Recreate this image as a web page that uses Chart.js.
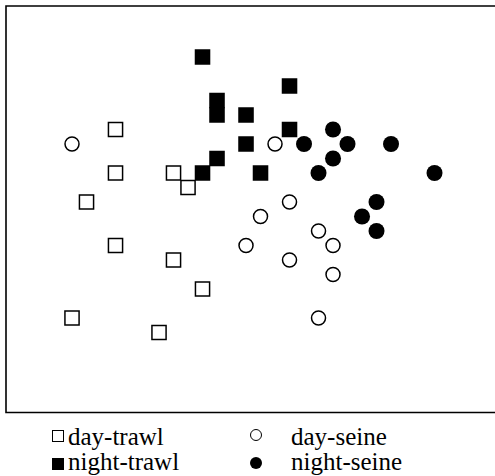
<!DOCTYPE html>
<html>
<head>
<meta charset="utf-8">
<script src="https://cdn.jsdelivr.net/npm/chart.js@4"></script>
<style>
  html, body { margin: 0; padding: 0; background: #fff; }
  #wrap { position: relative; width: 495px; height: 476px; overflow: hidden; }
  #c { position: absolute; left: 0; top: 0; }
  .lg { position: absolute; font-family: "Liberation Serif", "Times New Roman", serif; font-size: 25px; line-height: 25px; color: #000; white-space: nowrap; }
  .sym { position: absolute; box-sizing: border-box; }
</style>
</head>
<body>
<div id="wrap">
  <canvas id="c" width="495" height="420"></canvas>
  <div class="sym" style="left:52px;top:430px;width:12px;height:12px;border:1.2px solid #000;background:#fff"></div>
  <div class="lg" style="left:68px;top:424px">day-trawl</div>
  <div class="sym" style="left:52px;top:458px;width:12px;height:12px;background:#000"></div>
  <div class="lg" style="left:68px;top:449px">night-trawl</div>
  <div class="sym" style="left:250px;top:429px;width:12px;height:12px;border:1.2px solid #000;border-radius:50%;background:#fff"></div>
  <div class="lg" style="left:291px;top:424px">day-seine</div>
  <div class="sym" style="left:250px;top:457px;width:12px;height:12px;border-radius:50%;background:#000"></div>
  <div class="lg" style="left:291px;top:449px">night-seine</div>
</div>
<script>
// Series values (x, y)
const dayTrawlX   = [3, 3, 7, 8, 1, 3, 7, 9, 0, 6];
const dayTrawlY   = [15, 12, 12, 11, 10, 7, 6, 4, 2, 1];
const nightTrawlX = [9, 15, 10, 10, 12, 15, 12, 10, 9, 13];
const nightTrawlY = [20, 18, 17, 16, 16, 15, 14, 13, 12, 12];
const daySeineX   = [0, 14, 15, 13, 17, 18, 12, 15, 18, 17];
const daySeineY   = [14, 14, 10, 9, 8, 7, 7, 6, 5, 2];
const nightSeineX = [18, 16, 19, 22, 18, 17, 25, 21, 20, 21];
const nightSeineY = [15, 14, 14, 14, 13, 12, 12, 10, 9, 8];
const seriesNames = ["day-trawl", "night-trawl", "day-seine", "night-seine"];

function pts(xs, ys) { return xs.map((x, i) => ({ x: x, y: ys[i] })); }

const boxPlugin = {
  id: 'box',
  beforeDatasetsDraw(chart) {
    const a = chart.chartArea, ctx = chart.ctx;
    ctx.save();
    ctx.strokeStyle = '#000';
    ctx.lineWidth = 1.6;
    ctx.beginPath();
    ctx.moveTo(chart.width + 5, a.top);
    ctx.lineTo(a.left, a.top);
    ctx.lineTo(a.left, a.bottom);
    ctx.lineTo(chart.width + 5, a.bottom);
    ctx.stroke();
    ctx.restore();
  }
};

new Chart(document.getElementById('c'), {
  type: 'scatter',
  data: {
    datasets: [
      { label: seriesNames[0], data: pts(dayTrawlX, dayTrawlY), pointStyle: 'rect', pointRadius: 10, borderColor: '#000', backgroundColor: '#fff', borderWidth: 1.5 },
      { label: seriesNames[2], data: pts(daySeineX, daySeineY), pointStyle: 'circle', pointRadius: 7, borderColor: '#000', backgroundColor: '#fff', borderWidth: 1.5 },
      { label: seriesNames[1], data: pts(nightTrawlX, nightTrawlY), pointStyle: 'rect', pointRadius: 11, borderColor: '#000', backgroundColor: '#000', borderWidth: 0 },
      { label: seriesNames[3], data: pts(nightSeineX, nightSeineY), pointStyle: 'circle', pointRadius: 8, borderColor: '#000', backgroundColor: '#000', borderWidth: 0 }
    ]
  },
  options: {
    responsive: false,
    animation: false,
    layout: { autoPadding: false, padding: { left: 6, top: 6, right: 0, bottom: 7.5 } },
    plugins: { legend: { display: false }, tooltip: { enabled: false } },
    scales: {
      x: { type: 'linear', display: false, min: -4.552, max: 29.17 },
      y: { type: 'linear', display: false, min: -4.517, max: 23.517 }
    }
  },
  plugins: [boxPlugin]
});
</script>
</body>
</html>
